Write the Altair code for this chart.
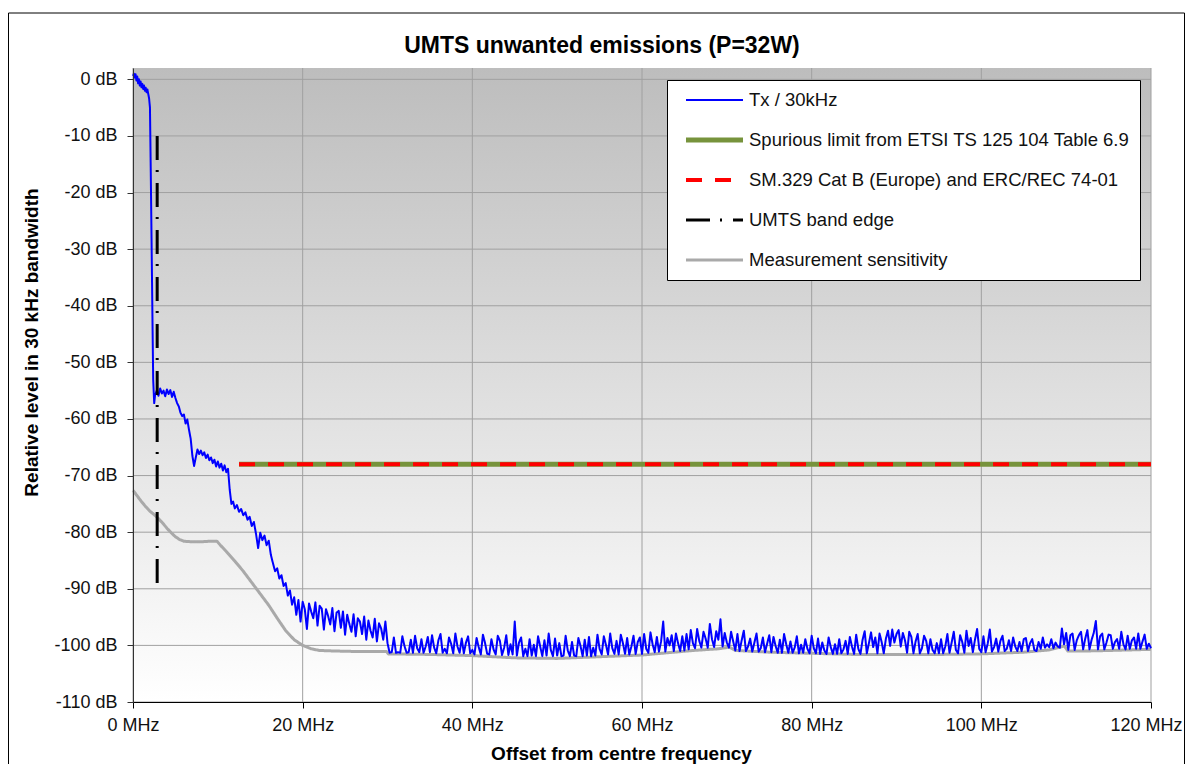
import altair as alt
import pandas as pd

TITLE = "UMTS unwanted emissions (P=32W)"
X_TITLE = "Offset from centre frequency"
Y_TITLE = "Relative level in 30 kHz bandwidth"

SERIES = [
    "Tx / 30kHz",
    "Spurious limit from ETSI TS 125 104 Table 6.9",
    "SM.329 Cat B (Europe) and ERC/REC 74-01",
    "UMTS band edge",
    "Measurement sensitivity",
]
COLORS = ["#0000ff", "#77933c", "#ff0000", "#000000", "#a9a9a9"]
DASHES = [[1, 0], [1, 0], [16, 13], [24, 10, 2, 11], [1, 0]]
WIDTHS = [2, 5, 4, 3, 3]

X_TICKS = [0, 20, 40, 60, 80, 100, 120]
Y_TICKS = [-110, -100, -90, -80, -70, -60, -50, -40, -30, -20, -10, 0]

# --- Tx / 30kHz (blue) ---
TX_FREQ_A = [0.0, 0.1, 0.2, 0.3, 0.4, 0.5, 0.6, 0.7, 0.8, 0.9,
             1.0, 1.1, 1.2, 1.3, 1.4, 1.5, 1.6, 1.7, 1.8, 1.9,
             2.0, 2.1, 2.2, 2.3, 2.38, 2.45, 2.5]
TX_LEVEL_A = [0.6, 1.0, 0.3, 0.9, -0.2, 0.5, -0.7, 0.0, -1.1, -0.4,
              -1.4, -0.8, -1.7, -1.1, -2.0, -1.5, -2.3, -1.8, -2.6, -3.4,
              -5.0, -17.0, -30.0, -43.0, -53.0, -55.5, -57.2]
# 2.6 .. 12.0 MHz, every 0.2 MHz
TX_LEVEL_B = [-55.8, -55.0, -55.9, -54.6, -55.5, -55.0, -56.0, -54.8, -55.6, -54.9,
              -56.1, -55.2, -56.3, -57.2, -57.8, -58.9, -59.5, -59.2, -60.8, -60.1,
              -61.9, -63.5, -66.5, -68.3, -66.8, -65.4, -66.2, -65.6, -66.4, -65.9,
              -66.9, -66.3, -67.3, -66.8, -67.8, -67.2, -68.4, -67.5, -68.6, -67.9,
              -69.1, -68.2, -69.4, -68.8, -72.5, -75.0, -74.6, -75.8]
# 12.25 .. 30.0 MHz, every 0.25 MHz
TX_LEVEL_C = [-75.2, -76.4, -75.9, -77.0, -76.5, -77.8, -77.3, -78.9, -78.2, -80.3,
              -82.8, -80.1, -81.4, -80.6, -82.3, -81.5, -84.0, -85.5, -86.9, -86.4,
              -88.2, -87.6, -89.5, -89.0, -91.2, -90.3, -92.8, -91.5, -94.6, -92.0,
              -95.8, -92.3, -93.6, -97.1, -92.6, -94.0, -95.2, -92.4, -96.5, -93.0,
              -93.5, -97.2, -93.6, -94.8, -96.3, -93.4, -97.5, -94.2, -93.9, -96.9,
              -94.0, -98.1, -94.6, -96.2, -97.6, -94.5, -98.4, -95.2, -95.8, -98.0,
              -94.9, -99.0, -95.6, -97.4, -98.6, -95.3, -99.3, -96.1, -97.0, -99.0,
              -95.8, -99.6]
# 30.25 .. 120.0 MHz, every 0.25 MHz (one row = 2.5 MHz)
TX_LEVEL_D = [
    -101.3, -101.2, -98.6, -101.3, -101.2, -101.3, -98.4, -100.1, -101.3, -101.2,
    -99.0, -101.3, -98.3, -100.5, -101.2, -98.9, -101.3, -100.2, -98.5, -101.2,
    -98.2, -100.4, -101.4, -99.1, -98.0, -101.3, -100.6, -101.4, -98.6, -99.7,
    -101.4, -97.9, -100.2, -101.3, -98.8, -101.4, -99.5, -98.4, -101.4, -100.8,
    -101.6, -98.7, -100.3, -101.6, -98.1, -99.6, -101.5, -101.6, -98.9, -100.7,
    -101.6, -98.3, -99.2, -101.7, -100.4, -98.2, -101.7, -99.8, -101.6, -95.8,
    -101.8, -99.5, -98.6, -101.9, -100.6, -101.9, -98.9, -101.8, -99.9, -101.9,
    -98.4, -100.2, -101.9, -99.1, -101.8, -97.9, -100.8, -101.9, -98.8, -101.8,
    -99.6, -101.9, -101.8, -98.3, -100.9, -101.9, -99.4, -101.8, -101.9, -98.7,
    -100.1, -101.9, -99.0, -101.8, -98.5, -101.9, -100.4, -101.8, -98.1, -100.6,
    -101.6, -98.4, -99.9, -101.6, -97.9, -100.5, -101.5, -99.2, -101.6, -98.1,
    -99.6, -101.5, -98.7, -101.6, -100.2, -98.3, -101.5, -99.4, -98.6, -101.5,
    -98.0, -100.6, -101.3, -97.7, -99.8, -101.2, -98.5, -101.1, -99.3, -95.8,
    -101.1, -98.7, -100.0, -98.2, -101.0, -97.9, -99.6, -101.0, -98.4, -100.9,
    -98.0, -100.7, -97.3, -99.6, -100.5, -97.1, -99.2, -100.4, -97.6, -98.8,
    -100.4, -96.2, -98.9, -100.3, -97.5, -99.0, -95.4, -100.2, -97.8, -99.5,
    -100.4, -97.6, -99.3, -100.9, -98.0, -101.0, -99.1, -97.4, -101.0, -100.2,
    -98.8, -101.1, -99.5, -97.9, -101.1, -100.5, -98.6, -101.2, -99.7, -98.2,
    -101.2, -98.5, -100.1, -101.3, -99.0, -101.3, -98.0, -99.8, -101.3, -99.3,
    -101.3, -100.4, -98.4, -101.4, -99.9, -101.3, -98.9, -100.6, -101.4, -98.3,
    -100.5, -101.4, -98.8, -101.5, -99.5, -100.9, -101.5, -98.6, -100.3, -101.5,
    -99.8, -101.5, -98.9, -101.4, -100.7, -99.2, -101.5, -98.5, -100.2, -101.5,
    -98.1, -100.6, -101.5, -99.0, -97.5, -101.4, -99.6, -97.7, -100.3, -98.6,
    -101.4, -97.9, -99.4, -101.4, -98.8, -97.4, -100.1, -97.2, -99.5, -98.0,
    -97.3, -100.2, -97.8, -99.1, -101.3, -97.6, -98.5, -101.4, -99.3, -98.0,
    -101.4, -100.5, -98.3, -99.2, -101.4, -98.9, -100.8, -101.4, -99.6, -101.4,
    -98.9, -101.4, -100.2, -98.0, -101.3, -99.5, -97.6, -100.8, -101.4, -98.2,
    -99.4, -101.3, -97.4, -100.1, -98.7, -101.2, -99.0, -97.1, -100.6, -101.2,
    -98.4, -101.2, -99.7, -97.2, -101.1, -100.3, -98.8, -101.1, -99.2, -98.3,
    -101.0, -100.6, -99.1, -101.0, -98.6, -100.2, -101.0, -99.4, -101.0, -98.9,
    -98.7, -101.0, -99.6, -98.9, -100.8, -101.0, -99.4, -100.6, -98.6, -100.4,
    -99.8, -100.3, -98.9, -100.5, -99.5, -100.2, -100.4, -97.0, -99.8, -97.8,
    -100.8, -98.2, -97.9, -100.8, -99.1, -98.2, -97.6, -100.7, -98.8, -97.3,
    -100.7, -99.0, -97.8, -95.7, -100.7, -98.4, -97.9, -100.7, -99.5, -98.1,
    -98.2, -100.6, -99.4, -98.9, -100.6, -97.6, -99.8, -100.7, -98.3, -100.6,
    -99.1, -98.6, -100.6, -97.9, -100.6, -99.3, -98.1, -100.6, -99.7, -100.5,
]

# --- Measurement sensitivity (grey) ---
SENS_FREQ = [0, 0.5, 1.0, 1.5, 2.0, 2.5, 3.0, 3.5, 4.0, 4.5, 5.0, 5.5, 6.0, 7.0, 8.0, 9.0,
             9.9, 10.3, 11.0, 12.0, 13.0, 14.0, 15.0, 16.0, 17.0, 18.0, 19.0, 20.0, 21.0,
             22.0, 24.0, 27.0, 29.9, 30.1, 35.0, 40.0, 45.0, 50.0, 55.0, 60.0, 63.0, 66.0,
             69.0, 70.3, 71.0, 75.0, 80.0, 85.0, 90.0, 95.0, 100.0, 105.0, 108.0, 109.8,
             110.2, 112.0, 115.0, 120.0]
SENS_LEVEL = [-72.6, -73.6, -74.6, -75.5, -76.3, -76.9, -77.6, -78.4, -79.3, -80.1, -80.8,
              -81.3, -81.6, -81.7, -81.7, -81.6, -81.6, -82.3, -83.4, -85.1, -86.9, -88.9,
              -90.9, -92.9, -95.2, -97.4, -99.0, -100.0, -100.6, -100.9, -101.0, -101.1,
              -101.1, -101.5, -101.6, -101.8, -102.2, -102.3, -102.0, -101.7, -101.3, -100.9,
              -100.6, -100.3, -100.9, -101.2, -101.4, -101.6, -101.6, -101.6, -101.5, -101.2,
              -100.8, -100.1, -101.0, -101.0, -100.9, -100.7]

# --- band edge and limits ---
EDGE_FREQ = [2.85, 2.85]
EDGE_LEVEL = [-10, -89.5]
LIMIT_FREQ = [12.5, 120]
LIMIT_LEVEL = [-68, -68]


def grid_freq(start, step, levels):
    return [round(start + i * step, 3) for i in range(len(levels))]


tx_freq = (TX_FREQ_A + grid_freq(2.6, 0.2, TX_LEVEL_B)
           + grid_freq(12.25, 0.25, TX_LEVEL_C) + grid_freq(30.25, 0.25, TX_LEVEL_D))
tx_level = TX_LEVEL_A + TX_LEVEL_B + TX_LEVEL_C + TX_LEVEL_D

rows = []
def add(name, fs, ls):
    for i, (f, l) in enumerate(zip(fs, ls)):
        rows.append({"series": name, "freq": f, "level": l, "idx": i})

add(SERIES[0], tx_freq, tx_level)
add(SERIES[1], LIMIT_FREQ, LIMIT_LEVEL)
add(SERIES[2], LIMIT_FREQ, LIMIT_LEVEL)
add(SERIES[3], EDGE_FREQ, EDGE_LEVEL)
add(SERIES[4], SENS_FREQ, SENS_LEVEL)
df = pd.DataFrame(rows)

FONT = "Liberation Sans"

x_enc = alt.X("freq:Q", scale=alt.Scale(domain=[0, 120], nice=False),
              axis=alt.Axis(values=X_TICKS, labelExpr="datum.value + ' MHz'", grid=False,
                            domainColor="#000000", tickColor="#000000", tickSize=6,
                            labelFontSize=18, labelPadding=8, labelColor="#111111",
                            labelFont=FONT, labelFlush=False, labelOverlap=False,
                            labelOffset={"condition": {"test": "datum.value == 120", "value": -5},
                                         "value": 0},
                            title=X_TITLE, titleFont=FONT, titleFontSize=19,
                            titleFontWeight="bold", titleColor="#000000",
                            titleX=488, titleY=51, titleAlign="center",
                            titleBaseline="middle", zindex=1))
y_enc = alt.Y("level:Q", scale=alt.Scale(domain=[-110, 2], nice=False),
              axis=alt.Axis(values=Y_TICKS, labelExpr="datum.value + ' dB'", grid=False,
                            domainColor="#333333", tickColor="#333333", tickSize=6,
                            labelFontSize=18, labelPadding=10, labelColor="#111111",
                            labelFont=FONT, labelFlush=False, labelOverlap=False,
                            title=Y_TITLE, titleFont=FONT, titleFontSize=19,
                            titleFontWeight="bold", titleColor="#000000",
                            titleX=-102, titleY=274, titleAngle=270, titleAlign="center",
                            titleBaseline="middle", zindex=1))

legend = alt.Legend(title=None, orient="none", legendX=534, legendY=12, direction="vertical",
                    symbolType="stroke", symbolSize=3249, clipHeight=20, rowPadding=20,
                    padding=10, symbolOffset=6.5, labelOffset=3.5, labelFont=FONT,
                    labelFontSize=18.5, labelColor="#111111", labelLimit=600,
                    fillColor="#ffffff", strokeColor="#000000")

color_enc = alt.Color("series:N", scale=alt.Scale(domain=SERIES, range=COLORS), legend=legend)
dash_enc = alt.StrokeDash("series:N", scale=alt.Scale(domain=SERIES, range=DASHES), legend=legend)
width_enc = alt.StrokeWidth("series:N", scale=alt.Scale(type="ordinal", domain=SERIES, range=WIDTHS),
                            legend=legend)

bg = alt.Chart(alt.Data(values=[{}])).mark_rect(
    fill=alt.LinearGradient(gradient="linear",
                            stops=[alt.GradientStop(color="#bdbdbd", offset=0),
                                   alt.GradientStop(color="#ffffff", offset=1)],
                            x1=0, x2=0, y1=0, y2=1)
).encode(x=alt.value(0), x2=alt.value("width"), y=alt.value(0), y2=alt.value("height"))

xgrid = alt.Chart(pd.DataFrame({"freq": X_TICKS})).mark_rule(
    color="#a0a0a0", strokeWidth=1).encode(x=x_enc)
ygrid = alt.Chart(pd.DataFrame({"level": Y_TICKS})).mark_rule(
    color="#a0a0a0", strokeWidth=1).encode(y=y_enc)

draw_order = [SERIES[4], SERIES[0], SERIES[3], SERIES[1], SERIES[2]]
lines = []
for name in draw_order:
    lines.append(
        alt.Chart(df).transform_filter(alt.datum.series == name)
        .mark_line(strokeJoin="round")
        .encode(x=x_enc, y=y_enc, color=color_enc, strokeDash=dash_enc,
                strokeWidth=width_enc, order="idx:Q")
    )

frame = alt.Chart(alt.Data(values=[{}])).mark_rect(
    fillOpacity=0, stroke="#000000", strokeWidth=1
).encode(x=alt.value(-124.5), x2=alt.value(1051.5), y=alt.value(-55), y2=alt.value(800))

chart = alt.layer(bg, xgrid, ygrid, *lines, frame).properties(
    width=1018, height=634, autosize="none",
    padding={"left": 125, "top": 60, "right": 34, "bottom": 62},
    title=alt.Title(TITLE, font=FONT, fontSize=23, fontWeight="bold", color="#000000",
                    anchor="middle", dx=-40, offset=-63, baseline="alphabetic"),
).configure(font=FONT).configure_view(strokeWidth=0)

chart.save("out.html", embed_options={"renderer": "svg", "actions": False})
